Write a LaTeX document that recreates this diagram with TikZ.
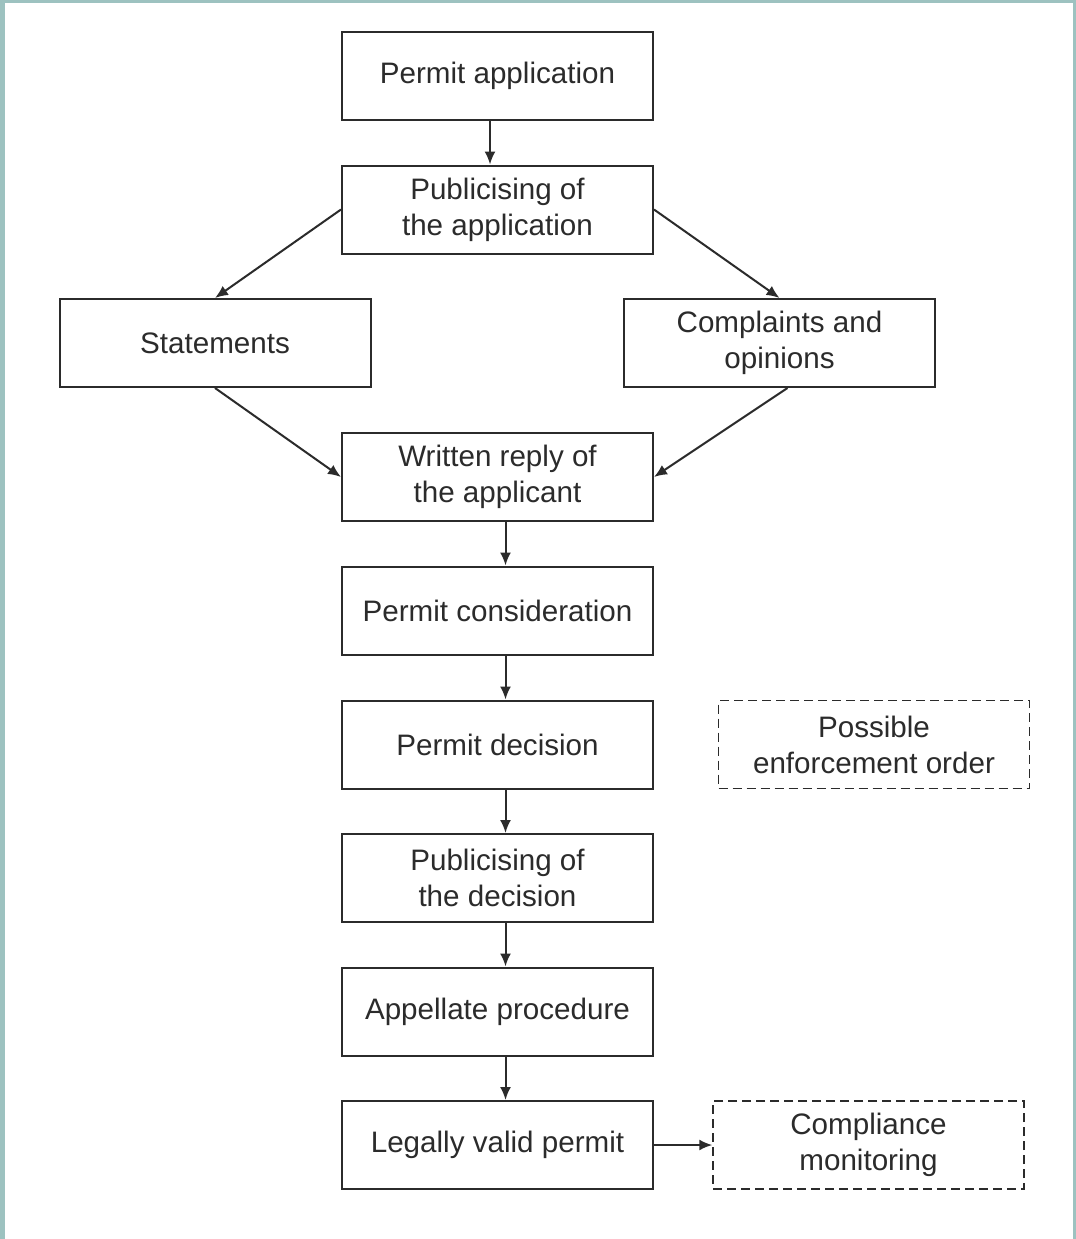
\documentclass[tikz,border=0pt]{standalone}
\usepackage{fontspec}
\setmainfont{Liberation Sans}
\usetikzlibrary{arrows.meta}
\definecolor{frame}{HTML}{9DC2C0}
\definecolor{ink}{HTML}{2B2B2B}
\begin{document}
\begin{tikzpicture}[x=0.5pt,y=-0.5pt,
  box/.style={draw=ink, line width=1pt, minimum width=155.5pt, minimum height=44pt,
    inner sep=0pt, align=center, text=ink, font=\fontsize{14.8}{18}\selectfont},
  optbox/.style={box, line width=0.7pt, dash pattern=on 4.5pt off 2.5pt},
  flow/.style={draw=ink, line width=1pt, -{Latex[length=6.5pt,width=5.5pt]}}]
  % page and frame
  \useasboundingbox (0,0) rectangle (1076,1239);
  \fill[white] (0,0) rectangle (1076,1239);
  \fill[frame] (0,0) rectangle (1076,3);
  \fill[frame] (0,0) rectangle (5,1239);
  \fill[frame] (1073,0) rectangle (1076,1239);
  % steps
  \node[box] (pa)  at (497.5,76)    {Permit application};
  \node[box] (pub) at (497.5,209.5) {Publicising of\\the application};
  \node[box] (st)  at (215,343)     {Statements};
  \node[box] (co)  at (779.5,343)   {Complaints and\\opinions};
  \node[box] (wr)  at (497.5,477)   {Written reply of\\the applicant};
  \node[box] (pc)  at (497.5,610.5) {Permit consideration};
  \node[box] (pd)  at (497.5,744.5) {Permit decision};
  \node[optbox] (en) at (874,744.5) {Possible\\enforcement order};
  \node[box] (pdd) at (497.5,878)   {Publicising of\\the decision};
  \node[box] (ap)  at (497.5,1011.5){Appellate procedure};
  \node[box] (lv)  at (497.5,1145)  {Legally valid permit};
  \node[optbox] (cm) at (868.5,1145) {Compliance\\monitoring};
  % connectors
  \draw[flow] ([xshift=-3.75pt]pa.south) -- ([xshift=-3.75pt]pub.north);
  \draw[flow] (pub.west) -- (st.north);
  \draw[flow] (pub.east) -- (co.north);
  \draw[flow] (st.south) -- (wr.west);
  \draw[flow] ([xshift=4pt]co.south) -- (wr.east);
  \draw[flow] ([xshift=4pt]wr.south) -- ([xshift=4pt]pc.north);
  \draw[flow] ([xshift=4pt]pc.south) -- ([xshift=4pt]pd.north);
  \draw[flow] ([xshift=4pt]pd.south) -- ([xshift=4pt]pdd.north);
  \draw[flow] ([xshift=4pt]pdd.south) -- ([xshift=4pt]ap.north);
  \draw[flow] ([xshift=4pt]ap.south) -- ([xshift=4pt]lv.north);
  \draw[flow] (lv.east) -- (cm.west);
\end{tikzpicture}
\end{document}
